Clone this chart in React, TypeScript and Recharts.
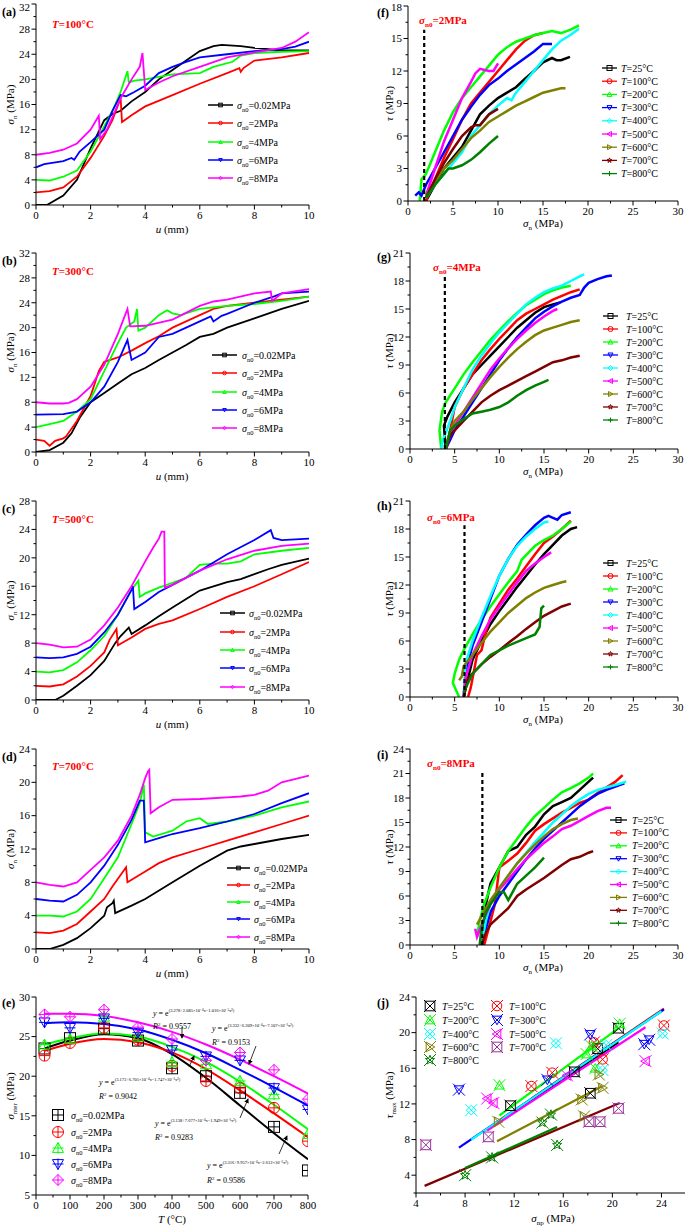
import React from "react";
import { LineChart, ComposedChart, Line, Scatter, XAxis, YAxis, ReferenceLine } from "recharts";

const FONT = "'Liberation Serif', 'Times New Roman', serif";

// ---- shared categories ----
const SIGMA_LABELS = ["0.02", "2", "4", "6", "8"];
const LEFT_COLORS = ["#000000", "#ff0000", "#00ff00", "#0000ff", "#ff00ff"];
const LEFT_MARKS = ["square", "circle", "triUp", "triDown", "diamond"];
const TEMPS = [25, 100, 200, 300, 400, 500, 600, 700, 800];
const TEMP_COLORS = ["#000000", "#ff0000", "#00ff00", "#0000ff", "#00ffff", "#ff00ff", "#808000", "#800000", "#008000"];
const TEMP_MARKS = ["square", "circle", "triUp", "triDown", "diamond", "triLeft", "triRight", "star", "plus"];
const J_COLORS = ["#000000", "#ff0000", "#00ff00", "#0000ff", "#00ffff", "#ff00ff", "#808000", "#993399", "#008000"];
const J_MARKS = ["square", "circle", "triUp", "triDown", "diamond", "triLeft", "triRight", "square", "star"];
const J_LINE_COLORS = ["#000000", "#ff0000", "#00ff00", "#0000ff", "#00ffff", "#ff00ff", "#808000", "#800000", "#008000"];

// ---- ticks ----
const uTicks = [0, 1, 2, 3, 4, 5, 6, 7, 8, 9, 10];
const sn32Ticks = [0, 2, 4, 6, 8, 10, 12, 14, 16, 18, 20, 22, 24, 26, 28, 30, 32];
const sn28Ticks = [0, 2, 4, 6, 8, 10, 12, 14, 16, 18, 20, 22, 24, 26, 28];
const sn24Ticks = [0, 2, 4, 6, 8, 10, 12, 14, 16, 18, 20, 22, 24];
const tempTicks = [0, 50, 100, 150, 200, 250, 300, 350, 400, 450, 500, 550, 600, 650, 700, 750, 800];
const eYTicks = [5, 7.5, 10, 12.5, 15, 17.5, 20, 22.5, 25, 27.5, 30];
const sigTicks = [0, 2.5, 5, 7.5, 10, 12.5, 15, 17.5, 20, 22.5, 25, 27.5, 30];
const tau18Ticks = [0, 1.5, 3, 4.5, 6, 7.5, 9, 10.5, 12, 13.5, 15, 16.5, 18];
const tau21Ticks = [0, 1.5, 3, 4.5, 6, 7.5, 9, 10.5, 12, 13.5, 15, 16.5, 18, 19.5, 21];
const tau24Ticks = [0, 1.5, 3, 4.5, 6, 7.5, 9, 10.5, 12, 13.5, 15, 16.5, 18, 19.5, 21, 22.5, 24];
const jXTicks = [4, 6, 8, 10, 12, 14, 16, 18, 20, 22, 24, 26];
const jYTicks = [2, 4, 6, 8, 10, 12, 14, 16, 18, 20, 22, 24];

// ---- (a) T=100°C : [u, sigma_n] ----
const a002 = [[0, 0], [0.4, 0], [1, 1.5], [1.5, 4], [2, 9], [2.5, 13.5], [2.8, 14.5], [3.1, 15], [3.5, 16.5], [4, 18], [4.5, 20], [5, 21.5], [5.5, 23], [6, 24.5], [6.5, 25.3], [6.8, 25.5], [7.5, 25.3], [8, 25], [8.5, 24.8], [9, 24.6], [10, 24.6]];
const a2 = [[0, 2], [0.5, 2.2], [1, 2.8], [1.5, 4.5], [2, 7.5], [2.5, 11], [2.8, 13.5], [3.1, 17], [3.15, 13.2], [3.5, 14.3], [4, 15.7], [5, 17.5], [6, 19.3], [7, 21], [7.45, 21.8], [7.5, 21.2], [7.6, 21.8], [8, 23], [9, 23.5], [10, 24.2]];
const a4 = [[0, 4], [0.5, 3.9], [1, 4.5], [1.5, 5.5], [2, 8.5], [2.5, 12.5], [2.8, 15], [3.1, 18], [3.35, 21.3], [3.4, 19.5], [3.6, 19.8], [4, 20], [5, 20.8], [6, 21], [6.5, 22], [7.2, 22.8], [7.5, 23.8], [8, 24.2], [9, 24.4], [10, 24.5]];
const a6 = [[0, 6], [0.3, 6.5], [1, 7], [1.3, 7.5], [1.4, 7.2], [1.6, 8.5], [2, 10], [2.5, 12], [2.8, 15], [3.1, 17.5], [3.3, 17.3], [3.6, 18], [4, 19], [4.5, 21], [5, 22], [5.5, 22.8], [6, 23.5], [7, 24], [8, 24.5], [9, 24.8], [9.5, 25.2], [10, 26]];
const a8 = [[0, 8], [0.5, 8.3], [1, 8.8], [1.5, 9.8], [2, 12], [2.3, 14.2], [2.35, 10.5], [2.6, 12], [2.8, 14], [3.1, 17], [3.5, 20], [3.8, 22], [3.9, 24.2], [4.0, 18.3], [4.5, 19.5], [5, 20.5], [6, 22], [7, 23.5], [8, 24.3], [9, 25], [9.5, 26], [10, 27.5]];

// ---- (b) T=300°C ----
const b002 = [[0, 0], [0.5, 0.3], [1, 1.5], [1.3, 3], [1.6, 5.5], [2, 8], [2.5, 9.5], [3, 11], [3.5, 12.5], [4, 13.5], [4.5, 14.8], [5, 16], [5.5, 17.2], [6, 18.5], [6.5, 19], [7, 20], [8, 21.5], [9, 23], [10, 24.3]];
const b2 = [[0, 2], [0.3, 1.8], [0.5, 1], [0.7, 1.8], [1, 2.2], [1.1, 2.5], [1.5, 5], [2, 9], [2.3, 13], [2.5, 14.5], [3, 15.2], [3.5, 16.3], [4, 17.5], [4.5, 18.6], [5, 20], [6, 22], [6.5, 23], [7, 23.5], [8, 24], [9, 24.5], [10, 25]];
const b4 = [[0, 4], [0.5, 4.5], [1, 5], [1.5, 6.5], [2, 8.5], [2.5, 13], [3, 17.5], [3.3, 20], [3.6, 21], [3.7, 23], [3.75, 19.5], [4, 20], [4.5, 22], [4.8, 22.8], [5, 22.3], [5.3, 22], [6, 23], [7, 23.5], [8, 23.8], [9, 24.3], [10, 25]];
const b6 = [[0, 6], [1, 6.1], [1.5, 6.5], [2, 8], [2.5, 10.5], [3, 14.5], [3.35, 18], [3.5, 14.8], [4, 16], [4.5, 18.5], [5, 19], [5.5, 20], [6, 21], [6.4, 21.8], [6.5, 21], [6.8, 21.9], [7, 22.2], [8, 24], [8.7, 25], [9, 25.5], [10, 25.8]];
const b8 = [[0, 8], [0.5, 7.8], [1, 7.8], [1.2, 7.9], [1.5, 8.5], [2, 10.5], [2.5, 14], [3, 19], [3.35, 23], [3.45, 20.2], [4, 20.3], [5, 21.3], [6, 23.5], [6.5, 24.2], [7, 24.5], [8, 25.5], [8.6, 25.8], [8.65, 24.3], [9, 25.5], [10, 26.2]];

// ---- (c) T=500°C ----
const c002 = [[0, 0], [0.7, 0], [1, 0.6], [1.5, 2], [2, 3.5], [2.5, 5.5], [2.9, 8], [3.1, 9], [3.4, 10.2], [3.5, 9.3], [4, 10.5], [4.5, 11.8], [5, 13], [5.5, 14.2], [6, 15.4], [6.5, 16], [7, 16.6], [7.5, 17], [8, 17.7], [8.5, 18.4], [9, 19], [10, 19.9]];
const c2 = [[0, 2], [0.5, 1.9], [1, 2.2], [1.5, 3.3], [2, 4.8], [2.5, 6.7], [2.7, 8.5], [2.95, 10], [3.0, 7.7], [3.5, 8.8], [4, 10], [4.5, 10.7], [5, 11.2], [6, 12.8], [7, 14.5], [8, 16], [9, 17.7], [10, 19.4]];
const c4 = [[0, 4], [0.5, 3.9], [1, 4.2], [1.5, 5.3], [2, 7], [2.5, 9], [3, 12], [3.5, 15.5], [3.75, 16.8], [3.8, 14.5], [4, 15], [4.5, 15.8], [5, 16.5], [5.5, 17.2], [6, 19], [6.5, 19.2], [7, 19.2], [7.5, 19.5], [8, 20.5], [9, 21], [10, 21.4]];
const c6 = [[0, 6], [0.5, 5.9], [1, 6], [1.5, 6.5], [2, 7.5], [2.5, 9.5], [3, 12], [3.5, 15.5], [3.55, 16], [3.6, 12.8], [4, 13.8], [4.5, 15.2], [5, 16.2], [5.5, 17.2], [6, 18.2], [7, 20.5], [8, 22.5], [8.6, 23.9], [8.7, 22.8], [9, 22.5], [10, 22.7]];
const c8 = [[0, 8], [0.5, 7.8], [1, 7.4], [1.5, 7.5], [2, 8.5], [2.5, 10.5], [3, 13], [3.5, 16], [4, 19.5], [4.3, 21.5], [4.5, 22.7], [4.6, 23.7], [4.7, 23.7], [4.72, 15.8], [5, 16.2], [6, 18.2], [7, 19.8], [8, 21], [9, 21.7], [10, 22]];

// ---- (d) T=700°C ----
const d002 = [[0, 0], [0.5, 0], [1, 0.5], [1.5, 1.3], [2, 2.5], [2.5, 4], [2.6, 5], [2.8, 5.5], [2.85, 5.8], [2.9, 4.3], [3.5, 5.2], [4, 6], [5, 8], [6, 10], [7, 11.8], [7.5, 12.3], [8, 12.6], [9, 13.2], [10, 13.7]];
const d2 = [[0, 2], [0.5, 1.9], [1, 2.2], [1.5, 3], [2, 4.5], [2.5, 6], [2.8, 7.5], [3.3, 9.8], [3.35, 8], [4, 9.3], [4.5, 10.3], [5, 11], [6, 12], [7, 13], [8, 14], [9, 15], [10, 16]];
const d4 = [[0, 4], [0.5, 4], [1, 3.9], [1.5, 4.5], [2, 6], [2.5, 8.5], [3, 11], [3.5, 15], [3.8, 17.5], [3.95, 19.7], [4.0, 14], [4.3, 13.5], [5, 14.2], [5.5, 15.3], [6, 15.7], [6.3, 15], [7, 15.3], [8, 16], [9, 17], [10, 17.7]];
const d6 = [[0, 6], [0.5, 5.8], [1, 5.7], [1.5, 6.5], [2, 8], [2.5, 10], [3, 12.5], [3.5, 15.5], [3.8, 17.8], [3.95, 17.8], [4.0, 12.8], [4.5, 13.3], [5, 13.8], [6, 14.5], [7, 15.3], [8, 16.2], [9, 17.5], [10, 18.7]];
const d8 = [[0, 8], [0.5, 7.7], [1, 7.5], [1.5, 8], [2, 9.5], [2.5, 11], [3, 13], [3.5, 16], [3.8, 18.5], [4, 20.5], [4.1, 21.3], [4.15, 21.5], [4.2, 16.3], [4.5, 17], [5, 17.9], [6, 18], [7, 18.2], [7.5, 18.3], [8, 18.5], [8.5, 19], [9, 20], [10, 20.8]];

// ---- (e) peak normal stress vs temperature ----
const eTemp = [25, 100, 200, 300, 400, 500, 600, 700, 800];
const ePts = [
  [23.5, 24.8, 26.0, 24.5, 21.0, 20.0, 17.9, 13.6, 8.1],
  [22.6, 24.2, 26.1, 24.6, 21.3, 19.4, 18.5, 16.0, 11.8],
  [24.0, 24.7, 27.5, 25.0, 21.8, 21.5, 19.4, 17.7, 12.7],
  [26.8, 26.1, 27.3, 25.5, 23.3, 22.5, 22.0, 18.5, 15.8],
  [27.8, 27.5, 28.4, 26.2, 24.7, 22.0, 23.0, 20.8, 17.1],
];
const eFit = [
  [23.5, 24.5, 25.3, 24.8, 22.8, 19.8, 16.3, 12.8, 9.5],
  [23.2, 24.1, 24.7, 24.3, 23.0, 20.9, 18.2, 15.3, 12.3],
  [24.0, 24.8, 25.4, 25.0, 23.7, 21.8, 19.3, 16.4, 13.3],
  [26.7, 26.8, 26.6, 25.9, 24.6, 22.9, 20.8, 18.6, 16.3],
  [27.9, 27.9, 27.6, 26.8, 25.6, 24.0, 22.1, 20.0, 17.8],
];
const eEq = [
  ["3.278+2.085×10⁻⁴x−1.016×10⁻⁵x²", "0.9557"],
  ["3.332+6.209×10⁻⁴x−7.107×10⁻⁶x²", "0.9153"],
  ["3.173+6.701×10⁻⁴x−1.747×10⁻⁶x²", "0.9042"],
  ["3.138+7.677×10⁻⁴x−1.949×10⁻⁶x²", "0.9283"],
  ["3.316+9.957×10⁻⁴x−2.612×10⁻⁶x²", "0.9586"],
];

// ---- (f) sigma_n0 = 2 MPa : [sigma_n, tau] ----
const fCurves = [
  [[2, 0], [3, 1.5], [4, 3], [5, 4], [6, 5], [7, 6.5], [8, 8], [9, 8.8], [10, 9.5], [11, 10], [12, 10.5], [13, 11.3], [14, 12], [15, 12.8], [16, 13.2], [16.5, 13], [17, 13], [18, 13.3]],
  [[2, 0], [3, 2], [4, 4], [5, 5.7], [6, 7.5], [7, 9], [8, 10], [9, 11], [10, 12], [11, 13], [12, 14], [13, 14.8], [14, 15.3], [15, 15.5]],
  [[1.3, 0], [1.5, 2], [2, 2.5], [3, 4.5], [4, 6.5], [5, 8.2], [6, 9.5], [7, 10.5], [8, 11.5], [9, 12.5], [10, 13.5], [11, 14.2], [12, 14.7], [13, 15], [14, 15.3], [15, 15.5], [16, 15.7], [17, 15.5], [18, 15.8], [19, 16.2]],
  [[0.8, 0.5], [1.2, 0.8], [1.5, 0.5], [2, 1.5], [3, 3], [4, 4.5], [5, 6], [6, 7.5], [7, 8.7], [8, 9.8], [9, 10.7], [10, 11.3], [11, 12], [12, 12.6], [13, 13.2], [14, 13.8], [15, 14.5], [16, 14.5]],
  [[2, 0.3], [3, 1.5], [4, 2.5], [5, 3.5], [6, 4.5], [7, 6], [8, 7], [9, 8], [10, 8.8], [11, 9.5], [11.5, 9.3], [12, 10], [13, 11], [14, 12], [15, 13], [16, 14], [17, 14.8], [18, 15.3], [19, 15.9]],
  [[2, 0.5], [3, 3], [4, 5.5], [5, 7.5], [6, 9.5], [7, 11], [7.5, 11.8], [8, 12.2], [9, 12], [9.5, 12], [10, 12.7]],
  [[2, 0.5], [3, 1.8], [4, 3], [5, 3.8], [6, 4.8], [7, 5.8], [8, 6.5], [9, 7.3], [10, 7.8], [11, 8.3], [12, 8.8], [13, 9.2], [14, 9.6], [15, 10], [16, 10.2], [17, 10.4], [17.5, 10.4]],
  [[2, 0.3], [3, 2], [4, 3.5], [5, 4.8], [6, 6], [7, 6.8], [7.5, 7], [8, 7], [9, 8], [10, 8.5]],
  [[2, 0.3], [3, 1.5], [4, 2.5], [4.5, 3], [5, 3], [6, 3.3], [7, 3.8], [8, 4.5], [9, 5.3], [10, 6]],
];
// ---- (g) sigma_n0 = 4 MPa ----
const gCurves = [
  [[4, 0], [3.8, 2.5], [4.2, 3.5], [5, 5], [6, 6.5], [7, 8], [8, 9], [9, 10], [10, 11], [11, 12], [12, 13], [13, 13.8], [14, 14.6], [15, 15.2], [16, 15.5], [16.8, 15.7]],
  [[4, 0], [4.5, 2], [5, 4.5], [6, 6.5], [7, 8], [8, 9.5], [9, 10.7], [10, 11.8], [11, 12.8], [12, 13.8], [13, 14.5], [14, 15], [15, 15.5], [16, 16], [17, 16.4], [18, 16.8], [19, 17.1]],
  [[3.5, 0], [3.3, 2], [3.6, 4], [4, 5], [5, 6.5], [6, 8], [7, 9.3], [8, 10.5], [9, 11.7], [10, 12.7], [11, 13.7], [12, 14.6], [13, 15.4], [14, 16], [15, 16.6], [16, 17], [17, 17.3], [18, 17.5]],
  [[4, 0], [4.5, 1], [5, 2], [6, 3.5], [7, 5], [8, 6.5], [9, 8], [10, 9.5], [11, 10.8], [12, 12], [13, 13], [14, 14], [15, 14.7], [16, 15.3], [17, 15.8], [18, 16.2], [19, 16.5], [19.5, 17.3], [20, 17.8], [21, 18.2], [22, 18.5], [22.6, 18.6]],
  [[3.5, 0], [3.7, 1], [4.5, 3], [5, 4.5], [6, 6.5], [7, 8.5], [8, 10], [9, 11.3], [10, 12.5], [11, 13.5], [12, 14.5], [13, 15.5], [14, 16.2], [15, 16.8], [16, 17.2], [17, 17.5], [18, 18], [19, 18.5], [19.5, 18.7]],
  [[4, 0], [4.5, 1.5], [5, 2.5], [6, 4], [7, 5.5], [8, 7], [9, 8.5], [10, 9.7], [11, 10.8], [12, 11.8], [13, 12.7], [14, 13.5], [15, 14.2], [16, 14.8], [16.5, 15]],
  [[4, 0], [4.5, 2], [5, 3], [6, 4], [7, 5.3], [8, 6.5], [9, 7.7], [10, 8.8], [11, 9.8], [12, 10.7], [13, 11.5], [14, 12.2], [15, 12.7], [16, 13], [17, 13.3], [18, 13.6], [19, 13.8]],
  [[4, 0], [4.5, 1.5], [5, 2], [6, 3], [7, 4], [8, 5], [9, 5.7], [10, 6.3], [11, 6.8], [12, 7.3], [13, 7.8], [14, 8.3], [15, 8.8], [16, 9.3], [17, 9.5], [18, 9.8], [19, 10]],
  [[4, 0], [4.5, 2], [5, 2.5], [6, 3.2], [7, 3.8], [8, 4], [9, 4.2], [10, 4.5], [11, 5], [12, 5.7], [13, 6.3], [14, 6.8], [15, 7.2], [15.5, 7.4]],
];
// ---- (h) sigma_n0 = 6 MPa ----
const hCurves = [
  [[6, 0], [6.5, 2], [7, 4], [8, 6], [9, 7.8], [10, 9.2], [11, 10.5], [12, 11.8], [13, 13], [14, 14.2], [15, 15.3], [16, 16.3], [17, 17.3], [18, 18], [18.7, 18.2]],
  [[6.5, 0], [6.8, 1], [7.5, 4.5], [8, 5], [8.5, 7], [9, 8.5], [10, 10], [11, 11.5], [12, 12.7], [13, 14], [14, 15.3], [15, 16.5], [16, 17.2], [17, 18], [18, 18.9]],
  [[5.5, 0], [4.8, 1.5], [5, 2.5], [5.5, 4], [6, 5], [7, 6.7], [8, 8.3], [9, 9.7], [10, 11], [11, 12.3], [12, 13.5], [12.5, 14.7], [13, 15.2], [14, 16.2], [15, 16.8], [16, 17.3], [17, 18], [18, 18.8]],
  [[6, 0], [6.3, 3], [7, 5.5], [8, 8], [9, 10.5], [10, 13], [11, 14.8], [12, 16.3], [13, 17.4], [14, 18.4], [15, 19.2], [15.5, 19.4], [16, 19.2], [16.5, 19], [17, 19.5], [18, 19.8]],
  [[6, 0], [6.2, 3.5], [7, 6], [8, 8.5], [9, 10.8], [10, 13], [11, 14.8], [12, 16.2], [13, 17.2], [14, 18], [15, 18.7], [15.5, 18.8]],
  [[6, 0], [6.2, 2], [7, 4.5], [8, 6.5], [9, 8.3], [10, 9.7], [11, 11], [12, 12.3], [13, 13.5], [14, 14.3], [15, 15], [15.8, 15.5]],
  [[5.5, 1.8], [5.8, 2.2], [6, 3.3], [7, 4.5], [8, 5.8], [9, 7], [10, 8], [11, 9], [12, 9.8], [13, 10.6], [14, 11.2], [15, 11.7], [16, 12], [17, 12.3], [17.5, 12.4]],
  [[6, 0], [6.5, 2], [7, 2.5], [8, 3.5], [9, 4.3], [10, 5], [11, 5.8], [12, 6.5], [13, 7.3], [14, 8], [15, 8.7], [16, 9.2], [17, 9.7], [18, 10]],
  [[6, 0.5], [7, 2.5], [8, 3.5], [9, 4.5], [10, 5], [11, 5.5], [12, 5.9], [13, 6.3], [14, 6.7], [14.5, 7.5], [14.7, 9.5], [15, 9.8]],
];
// ---- (i) sigma_n0 = 8 MPa ----
const iCurves = [
  [[8, 0], [8.3, 2], [8.5, 5], [9, 7.5], [10, 9.5], [10.5, 10.5], [11, 11.5], [12, 12], [13, 13.5], [14, 14.5], [15, 16], [16, 17], [17, 17.5], [18, 18], [19, 19], [20, 20], [20.5, 20.5]],
  [[8.3, 0], [8.8, 2], [9.5, 5], [10, 9.5], [11, 10.3], [12, 11.2], [13, 12.5], [14, 14], [15, 14.8], [16, 15.5], [17, 16.2], [18, 16.8], [19, 17.4], [20, 17.8], [21, 18.6], [22, 19.3], [23, 20], [23.8, 20.8]],
  [[7.5, 1], [7.8, 3], [8.3, 5], [9, 7], [10, 9.5], [11, 11.5], [12, 13], [13, 14.5], [14, 15.8], [15, 16.8], [16, 17.8], [17, 18.7], [18, 19.2], [19, 19.8], [20, 20.5], [20.5, 21]],
  [[8, 0], [8.5, 2], [9, 4], [10, 6], [11, 7.5], [12, 9], [13, 10.5], [14, 11.8], [15, 13], [16, 14], [17, 15], [18, 16], [19, 17], [20, 17.8], [21, 18.5], [22, 19], [23, 19.4], [24, 19.8]],
  [[8, 0], [8.5, 3], [9, 5], [10, 7], [11, 8.5], [12, 10], [13, 11.3], [14, 12.6], [15, 13.8], [16, 15], [17, 16], [18, 17], [19, 17.8], [20, 18.5], [21, 19], [22, 19.3], [23, 19.6], [24.2, 20]],
  [[7.3, 2], [7.5, 1], [8.2, 3], [9, 5], [10, 6.8], [11, 8], [12, 9.3], [13, 10.5], [14, 11.5], [15, 12.5], [16, 13.3], [17, 14.2], [18, 14.6], [19, 15.2], [20, 15.8], [21, 16.4], [22, 16.8], [22.5, 16.8]],
  [[7.5, 2.5], [8, 3.5], [9, 5.5], [10, 7], [11, 8.5], [12, 10], [13, 11.2], [14, 12.3], [15, 13.3], [16, 14.2], [17, 14.8], [18, 15.3], [18.8, 15.5]],
  [[8, 0], [8.5, 1.5], [9, 2.5], [10, 3.5], [11, 4.5], [12, 6], [13, 6.8], [14, 7.5], [15, 8.2], [16, 9], [17, 9.8], [18, 10.5], [19, 10.8], [20, 11.3], [20.5, 11.5]],
  [[7.8, 0], [8, 2], [8.5, 4], [9, 5], [10, 6.5], [10.5, 6.5], [11, 5.5], [11.5, 6.5], [12, 7.5], [13, 8.5], [14, 9.5], [15, 10.7]],
];
const refSigma = [1.8, 3.9, 6.1, 8.1];
const refTop = [15.8, 18.5, 18.4, 21.2];
const refLabels = ["2", "4", "6", "8"];

// ---- (j) tau_max vs sigma_np ----
const jPts = [
  [[11.7, 11.8], [16.9, 15.6], [18.2, 13.2], [18.8, 18.2], [20.5, 20.5]],
  [[13.4, 14.0], [15.1, 15.5], [18.5, 18.9], [19.2, 17.0], [24.2, 20.8]],
  [[10.8, 14.1], [17.9, 17.6], [18.6, 16.0], [18.3, 18.5], [20.6, 21.0]],
  [[7.5, 13.6], [14.7, 14.7], [18.2, 19.8], [22.6, 18.7], [23.0, 19.2]],
  [[8.5, 11.3], [15.4, 18.8], [19.2, 15.8], [19.5, 18.6], [24.1, 19.9]],
  [[9.8, 12.6], [10.3, 12.1], [16.3, 15.2], [22.7, 16.8]],
  [[10.7, 10.0], [17.5, 12.5], [17.7, 10.6], [18.9, 15.3], [19.2, 13.8]],
  [[4.8, 7.4], [9.9, 8.3], [18.1, 10.0], [19.0, 10.0], [20.5, 11.5]],
  [[8.0, 4.0], [10.2, 6.0], [14.3, 9.9], [15.0, 10.8], [15.5, 7.4]],
];
const jFit = [
  [[11.7, 10.9], [20.5, 18.9]],
  [[13.4, 12.6], [24.2, 22.7]],
  [[10.8, 10.7], [20.6, 20.6]],
  [[7.5, 7.1], [24.2, 22.6]],
  [[8.5, 8.0], [24.0, 22.4]],
  [[9.8, 9.0], [22.7, 20.6]],
  [[10.6, 7.8], [19.2, 14.0]],
  [[4.7, 2.8], [20.6, 12.1]],
  [[8.0, 4.8], [15.5, 9.4]],
];

type Pt = { x: number; y: number };
const pts = (arr: number[][]): Pt[] => arr.map(([x, y]) => ({ x, y }));

const YW = 40;
const MT = 10;
const MR = 12;
const XH = 30;

const isMaj = (v: number, m: number) => Math.abs(v / m - Math.round(v / m)) < 1e-6;

function xTick(major: number) {
  return (p: any) => {
    const v = p.payload.value;
    const big = isMaj(v, major);
    return (
      <g>
        <line x1={p.x} x2={p.x} y1={p.y} y2={p.y + (big ? 4.5 : 2.5)} stroke="#000" />
        {big && (
          <text x={p.x} y={p.y + 14} textAnchor="middle" fontSize={11} fontFamily={FONT} fill="#000">
            {v}
          </text>
        )}
      </g>
    );
  };
}

// y tick labels; minBase (chart coords) keeps the top label inside the page
function yTick(major: number, minBase = -1000) {
  return (p: any) => {
    const v = p.payload.value;
    const big = isMaj(v, major);
    return (
      <g>
        <line x1={p.x} x2={p.x - (big ? 4.5 : 2.5)} y1={p.y} y2={p.y} stroke="#000" />
        {big && (
          <text x={p.x - 6} y={Math.max(p.y + 3.8, minBase)} textAnchor="end" fontSize={11} fontFamily={FONT} fill="#000">
            {v}
          </text>
        )}
      </g>
    );
  };
}

function Mark({ type, x, y, r, color, fill = "none", sw = 1 }: any) {
  const common = { stroke: color, fill, strokeWidth: sw };
  switch (type) {
    case "square":
      return <rect x={x - r} y={y - r} width={2 * r} height={2 * r} {...common} />;
    case "circle":
      return <circle cx={x} cy={y} r={r} {...common} />;
    case "triUp":
      return <polygon points={`${x},${y - r} ${x + r},${y + r * 0.8} ${x - r},${y + r * 0.8}`} {...common} />;
    case "triDown":
      return <polygon points={`${x},${y + r} ${x + r},${y - r * 0.8} ${x - r},${y - r * 0.8}`} {...common} />;
    case "diamond":
      return <polygon points={`${x},${y - r} ${x + r},${y} ${x},${y + r} ${x - r},${y}`} {...common} />;
    case "triLeft":
      return <polygon points={`${x - r},${y} ${x + r * 0.8},${y - r} ${x + r * 0.8},${y + r}`} {...common} />;
    case "triRight":
      return <polygon points={`${x + r},${y} ${x - r * 0.8},${y - r} ${x - r * 0.8},${y + r}`} {...common} />;
    case "star": {
      const p: string[] = [];
      for (let k = 0; k < 10; k++) {
        const rr = k % 2 === 0 ? r : r * 0.45;
        const ang = -Math.PI / 2 + (k * Math.PI) / 5;
        p.push(`${x + rr * Math.cos(ang)},${y + rr * Math.sin(ang)}`);
      }
      return <polygon points={p.join(" ")} {...common} />;
    }
    default:
      return (
        <g stroke={color} strokeWidth={sw}>
          <line x1={x - r} x2={x + r} y1={y} y2={y} />
          <line x1={x} x2={x} y1={y - r} y2={y + r} />
        </g>
      );
  }
}

function CurvePanel({ x0, y0, x1, y1, xDom, xTicks, xMajor, yDom, yTicks, yMajor, series, width, children }: any) {
  const w = x1 - x0;
  const h = y1 - y0;
  const minBase = 10.5 - (y0 - MT);
  return (
    <div style={{ position: "absolute", left: x0 - YW, top: y0 - MT }}>
      <LineChart width={w + YW + MR} height={h + MT + XH} margin={{ top: MT, right: MR, left: 0, bottom: 0 }}>
        <XAxis type="number" dataKey="x" domain={xDom} ticks={xTicks} interval={0} allowDataOverflow height={XH}
          tickSize={0} tickMargin={0} tickLine={false} axisLine={{ stroke: "#000" }} tick={xTick(xMajor)} />
        <YAxis type="number" dataKey="y" domain={yDom} ticks={yTicks} interval={0} allowDataOverflow width={YW}
          tickSize={0} tickMargin={0} tickLine={false} axisLine={{ stroke: "#000" }} tick={yTick(yMajor, minBase)} />
        {series.map((s: any, i: number) => (
          <Line key={i} data={pts(s.data)} dataKey="y" type="linear" stroke={s.color} strokeWidth={width}
            dot={false} isAnimationActive={false} />
        ))}
        {children}
      </LineChart>
    </div>
  );
}

function SigmaText({ x, y, sub, rest, size = 10, fill = "#000", bold = false }: any) {
  return (
    <text x={x} y={y} fontSize={size} fontFamily={FONT} fill={fill} fontWeight={bold ? "bold" : "normal"}>
      <tspan fontStyle="italic">σ</tspan>
      <tspan fontSize={size * 0.65} dy={size * 0.3}>{sub}</tspan>
      <tspan dy={-size * 0.3}>{rest}</tspan>
    </text>
  );
}

function TText({ x, y, rest, size = 10, fill = "#000", bold = false }: any) {
  return (
    <text x={x} y={y} fontSize={size} fontFamily={FONT} fill={fill} fontWeight={bold ? "bold" : "normal"}>
      <tspan fontStyle="italic">T</tspan>
      <tspan>{rest}</tspan>
    </text>
  );
}

function LeftLegend({ lx1, lx2, tx, ys }: any) {
  return (
    <g>
      {SIGMA_LABELS.map((s, i) => (
        <g key={i}>
          <line x1={lx1} x2={lx2} y1={ys[i]} y2={ys[i]} stroke={LEFT_COLORS[i]} strokeWidth={1.5} />
          <Mark type={LEFT_MARKS[i]} x={(lx1 + lx2) / 2} y={ys[i]} r={1.8} color={LEFT_COLORS[i]} />
          <SigmaText x={tx} y={ys[i] + 3.5} sub="n0" rest={`=${s}MPa`} size={10} />
        </g>
      ))}
    </g>
  );
}

function RightLegend({ lx1, lx2, tx, y0, step }: any) {
  return (
    <g>
      {TEMPS.map((t, i) => {
        const y = y0 + i * step;
        return (
          <g key={i}>
            <line x1={lx1} x2={lx2} y1={y} y2={y} stroke={TEMP_COLORS[i]} strokeWidth={1.3} />
            <Mark type={TEMP_MARKS[i]} x={(lx1 + lx2) / 2} y={y} r={2.5} color={TEMP_COLORS[i]} />
            <TText x={tx} y={y + 3.5} rest={`=${t}°C`} size={10} />
          </g>
        );
      })}
    </g>
  );
}

function YLabel({ x, y, children }: any) {
  return (
    <text x={x} y={y} transform={`rotate(-90 ${x} ${y})`} textAnchor="middle" fontSize={11} fontFamily={FONT} fill="#000">
      {children}
    </text>
  );
}

const leftPanels = [
  { key: "a", y0: 4, y1: 205, dom: [0, 32], ticks: sn32Ticks, data: [a002, a2, a4, a6, a8], T: "100", ty: 24, lg: [208, 233, 237, [105, 123, 142, 160, 178]] },
  { key: "b", y0: 253, y1: 452, dom: [0, 32], ticks: sn32Ticks, data: [b002, b2, b4, b6, b8], T: "300", ty: 271, lg: [212, 237, 242, [355, 373, 392, 410, 428]] },
  { key: "c", y0: 501, y1: 700, dom: [0, 28], ticks: sn28Ticks, data: [c002, c2, c4, c6, c8], T: "500", ty: 519, lg: [220, 245, 249, [613, 632, 650, 668, 687]] },
  { key: "d", y0: 749, y1: 949, dom: [0, 24], ticks: sn24Ticks, data: [d002, d2, d4, d6, d8], T: "700", ty: 766, lg: [227, 250, 254, [868, 885, 902, 919, 937]] },
];

const rightPanels = [
  { key: "f", x0: 408, y0: 6, y1: 201, dom: [0, 18], ticks: tau18Ticks, data: fCurves, lab: [419, 24], lg: [602, 617, 621, 68, 13.2], ly: 13 },
  { key: "g", x0: 410, y0: 253, y1: 449, dom: [0, 21], ticks: tau21Ticks, data: gCurves, lab: [433, 271], lg: [603, 618, 626, 316, 13.0], ly: 257 },
  { key: "h", x0: 410, y0: 501, y1: 697, dom: [0, 21], ticks: tau21Ticks, data: hCurves, lab: [427, 521], lg: [603, 618, 626, 563, 13.0], ly: 506 },
  { key: "i", x0: 410, y0: 749, y1: 945, dom: [0, 24], ticks: tau24Ticks, data: iCurves, lab: [427, 767], lg: [610, 627, 632, 820, 12.9], ly: 755 },
];

function eShape(i: number) {
  return (p: any) => {
    const { cx, cy } = p;
    const r = 5.5;
    const c = LEFT_COLORS[i];
    return (
      <g>
        <Mark type={LEFT_MARKS[i]} x={cx} y={cy} r={r} color={c} />
        <line x1={cx - r} x2={cx + r} y1={cy} y2={cy} stroke={c} />
        <line x1={cx} x2={cx} y1={cy - r} y2={cy + r} stroke={c} />
      </g>
    );
  };
}

function jShape(i: number) {
  return (p: any) => {
    const { cx, cy } = p;
    const r = 6;
    const c = J_COLORS[i];
    return (
      <g>
        <Mark type={J_MARKS[i]} x={cx} y={cy} r={r * 0.8} color={c} />
        <line x1={cx - r} x2={cx + r} y1={cy - r} y2={cy + r} stroke={c} />
        <line x1={cx - r} x2={cx + r} y1={cy + r} y2={cy - r} stroke={c} />
      </g>
    );
  };
}

export default function App() {
  const ex0 = 36, ey0 = 997, ex1 = 308, ey1 = 1195;
  const jx0 = 416, jy0 = 997, jx1 = 686, jy1 = 1193;
  const eqPos = [[153, 1013, 1026], [212, 1028, 1042], [99, 1082, 1096], [155, 1123, 1137], [207, 1165, 1180]];
  const arrows = [[182, 1027, 182, 1038], [256, 1046, 249, 1064], [189, 1067, 194, 1056], [240, 1118, 248, 1099], [279, 1154, 287, 1136]];
  const jLegend = [[430, 1006], [497, 1006], [430, 1020], [497, 1020], [430, 1034], [497, 1034], [430, 1047], [497, 1047], [430, 1060]];
  return (
    <div style={{ position: "absolute", left: 0, top: 0, width: 685, height: 1227, background: "#fff", overflow: "hidden", fontFamily: FONT }}>
      {leftPanels.map((p) => (
        <CurvePanel key={p.key} x0={36} y0={p.y0} x1={309} y1={p.y1} xDom={[0, 10]} xTicks={uTicks} xMajor={2}
          yDom={p.dom} yTicks={p.ticks} yMajor={4} width={1.8}
          series={p.data.map((d, i) => ({ data: d, color: LEFT_COLORS[i] }))} />
      ))}

      {rightPanels.map((p, k) => (
        <CurvePanel key={p.key} x0={p.x0} y0={p.y0} x1={678} y1={p.y1} xDom={[0, 30]} xTicks={sigTicks} xMajor={5}
          yDom={p.dom} yTicks={p.ticks} yMajor={3} width={2.5}
          series={p.data.map((d, i) => ({ data: d, color: TEMP_COLORS[i] }))}>
          <ReferenceLine segment={[{ x: refSigma[k], y: 0 }, { x: refSigma[k], y: refTop[k] }]} stroke="#000"
            strokeWidth={2.2} strokeDasharray="4 3" />
        </CurvePanel>
      ))}

      {/* (e) */}
      <div style={{ position: "absolute", left: ex0 - YW, top: ey0 - MT }}>
        <ComposedChart width={ex1 - ex0 + YW + MR} height={ey1 - ey0 + MT + XH} margin={{ top: MT, right: MR, left: 0, bottom: 0 }}>
          <XAxis type="number" dataKey="x" domain={[0, 800]} ticks={tempTicks} interval={0} allowDataOverflow height={XH}
            tickSize={0} tickMargin={0} tickLine={false} axisLine={{ stroke: "#000" }} tick={xTick(100)} />
          <YAxis type="number" dataKey="y" domain={[5, 30]} ticks={eYTicks} interval={0} allowDataOverflow width={YW}
            tickSize={0} tickMargin={0} tickLine={false} axisLine={{ stroke: "#000" }} tick={yTick(5)} />
          {eFit.map((f, i) => (
            <Line key={"f" + i} data={eTemp.map((t, k) => ({ x: t, y: f[k] }))} dataKey="y" type="monotone"
              stroke={LEFT_COLORS[i]} strokeWidth={2} dot={false} isAnimationActive={false} />
          ))}
          {ePts.map((s, i) => (
            <Scatter key={"s" + i} data={eTemp.map((t, k) => ({ x: t, y: s[k] }))} dataKey="y" shape={eShape(i)}
              isAnimationActive={false} />
          ))}
        </ComposedChart>
      </div>

      {/* (j) */}
      <div style={{ position: "absolute", left: jx0 - YW, top: jy0 - MT }}>
        <ComposedChart width={jx1 - jx0 + YW + MR} height={jy1 - jy0 + MT + XH} margin={{ top: MT, right: MR, left: 0, bottom: 0 }}>
          <XAxis type="number" dataKey="x" domain={[4, 26]} ticks={jXTicks} interval={0} allowDataOverflow height={XH}
            tickSize={0} tickMargin={0} tickLine={false} axisLine={{ stroke: "#000" }} tick={xTick(4)} />
          <YAxis type="number" dataKey="y" domain={[2, 24]} ticks={jYTicks} interval={0} allowDataOverflow width={YW}
            tickSize={0} tickMargin={0} tickLine={false} axisLine={{ stroke: "#000" }} tick={yTick(4)} />
          {jFit.map((f, i) => (
            <Line key={"l" + i} data={pts(f)} dataKey="y" type="linear" stroke={J_LINE_COLORS[i]} strokeWidth={2.2}
              dot={false} isAnimationActive={false} />
          ))}
          {jPts.map((s, i) => (
            <Scatter key={"p" + i} data={pts(s)} dataKey="y" shape={jShape(i)} isAnimationActive={false} />
          ))}
        </ComposedChart>
      </div>

      <svg width={685} height={1227} style={{ position: "absolute", left: 0, top: 0, pointerEvents: "none" }}>
        <defs>
          <marker id="ah" markerWidth="6" markerHeight="6" refX="5" refY="3" orient="auto">
            <path d="M0,0 L6,3 L0,6 z" fill="#000" />
          </marker>
        </defs>
        {leftPanels.map((p) => (
          <g key={p.key}>
            <text x={2} y={p.y0 + 12} fontSize={12} fontWeight="bold" fontFamily={FONT}>({p.key})</text>
            <TText x={52} y={p.ty + 4} rest={`=${p.T}°C`} size={11} fill="#ff0000" bold />
            <LeftLegend lx1={p.lg[0]} lx2={p.lg[1]} tx={p.lg[2]} ys={p.lg[3]} />
            <YLabel x={14} y={(p.y0 + p.y1) / 2}>
              <tspan fontStyle="italic">σ</tspan>
              <tspan fontSize={7} dy={3}>n</tspan>
              <tspan dy={-3}> (MPa)</tspan>
            </YLabel>
            <text x={172} y={p.y1 + 28} textAnchor="middle" fontSize={11} fontFamily={FONT}>
              <tspan fontStyle="italic">u</tspan> (mm)
            </text>
          </g>
        ))}
        {rightPanels.map((p, k) => (
          <g key={p.key}>
            <text x={377} y={p.ly + 4} fontSize={12} fontWeight="bold" fontFamily={FONT}>({p.key})</text>
            <SigmaText x={p.lab[0]} y={p.lab[1]} sub="n0" rest={`=${refLabels[k]}MPa`} size={11} fill="#ff0000" bold />
            <RightLegend lx1={p.lg[0]} lx2={p.lg[1]} tx={p.lg[2]} y0={p.lg[3]} step={p.lg[4]} />
            <YLabel x={393} y={(p.y0 + p.y1) / 2}>
              <tspan fontStyle="italic">τ</tspan>
              <tspan> (MPa)</tspan>
            </YLabel>
            <text x={543} y={p.y1 + 26} textAnchor="middle" fontSize={11} fontFamily={FONT}>
              <tspan fontStyle="italic">σ</tspan>
              <tspan fontSize={7} dy={3}>n</tspan>
              <tspan dy={-3}> (MPa)</tspan>
            </text>
          </g>
        ))}

        {/* (e) texts */}
        <text x={2} y={1007} fontSize={12} fontWeight="bold" fontFamily={FONT}>(e)</text>
        <YLabel x={14} y={1096}>
          <tspan fontStyle="italic">σ</tspan>
          <tspan fontSize={7} dy={3}>nter</tspan>
          <tspan dy={-3}> (MPa)</tspan>
        </YLabel>
        <text x={172} y={1223} textAnchor="middle" fontSize={11} fontFamily={FONT}>
          <tspan fontStyle="italic">T</tspan> (°C)
        </text>
        {SIGMA_LABELS.map((s, i) => {
          const y = [1115, 1132, 1148, 1164, 1180][i];
          return (
            <g key={i}>
              {eShape(i)({ cx: 58, cy: y })}
              <SigmaText x={71} y={y + 3.5} sub="n0" rest={`=${s}MPa`} size={10} />
            </g>
          );
        })}
        {eEq.map((q, i) => (
          <g key={i} fontFamily={FONT}>
            <text x={eqPos[i][0]} y={eqPos[i][1] + 3} fontSize={8}>
              <tspan fontStyle="italic">y</tspan>
              <tspan> = e</tspan>
              <tspan fontSize={4.5} dy={-4}>({q[0]})</tspan>
            </text>
            <text x={eqPos[i][0]} y={eqPos[i][2] + 3} fontSize={8}>
              <tspan fontStyle="italic">R</tspan>
              <tspan fontSize={5} dy={-3}>2</tspan>
              <tspan dy={3}> = {q[1]}</tspan>
            </text>
          </g>
        ))}
        {arrows.map((a, i) => (
          <line key={i} x1={a[0]} y1={a[1]} x2={a[2]} y2={a[3]} stroke="#000" strokeWidth={0.8} markerEnd="url(#ah)" />
        ))}

        {/* (j) texts */}
        <text x={377} y={1007} fontSize={12} fontWeight="bold" fontFamily={FONT}>(j)</text>
        <YLabel x={393} y={1095}>
          <tspan fontStyle="italic">τ</tspan>
          <tspan fontSize={7} dy={3}>max</tspan>
          <tspan dy={-3}> (MPa)</tspan>
        </YLabel>
        <text x={553} y={1222} textAnchor="middle" fontSize={11} fontFamily={FONT}>
          <tspan fontStyle="italic">σ</tspan>
          <tspan fontSize={7} dy={3}>np</tspan>
          <tspan dy={-3}> (MPa)</tspan>
        </text>
        {TEMPS.map((t, i) => (
          <g key={i}>
            {jShape(i)({ cx: jLegend[i][0], cy: jLegend[i][1] })}
            <TText x={jLegend[i][0] + 12} y={jLegend[i][1] + 3.5} rest={`=${t}°C`} size={10} />
          </g>
        ))}
      </svg>
    </div>
  );
}
